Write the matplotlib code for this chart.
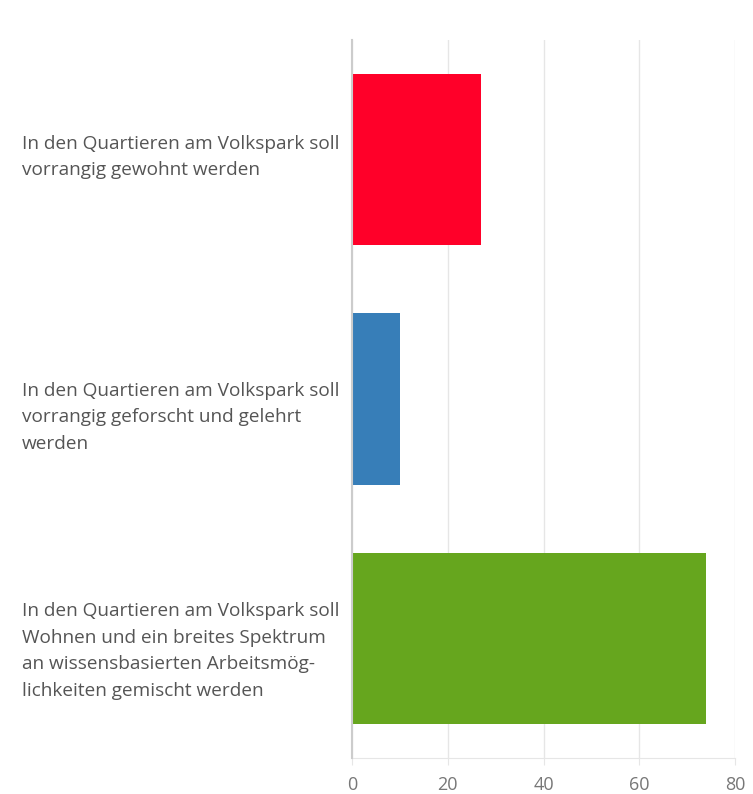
import matplotlib
matplotlib.use("Agg")
import matplotlib.pyplot as plt
from matplotlib.transforms import blended_transform_factory

labels = [
    "In den Quartieren am Volkspark soll\nvorrangig gewohnt werden",
    "In den Quartieren am Volkspark soll\nvorrangig geforscht und gelehrt\nwerden",
    "In den Quartieren am Volkspark soll\nWohnen und ein breites Spektrum\nan wissensbasierten Arbeitsmög-\nlichkeiten gemischt werden",
]
values = [27, 10, 74]
colors = ["#FF0029", "#377EB8", "#66A61E"]
xticks = [0, 20, 40, 60, 80]

# small vertical nudges for the category labels (in bar-band units)
label_nudge = [-0.01, 0.076, 0.053]

plt.rcParams["font.family"] = ["Open Sans", "DejaVu Sans"]

fig = plt.figure(figsize=(7.53, 7.94), dpi=100)
ax = fig.add_axes([352 / 753, 1 - 758 / 794, (735 - 352) / 753, (758 - 40) / 794])

pos = list(range(len(values)))
ax.barh(pos, values, height=0.715, color=colors, zorder=3)
ax.set_ylim(len(values) - 0.5, -0.5)
ax.set_xlim(0, 80)
ax.set_xticks(xticks)
ax.set_xticklabels([str(t) for t in xticks], color="#777777", fontsize=13)
ax.set_yticks([])
ax.grid(axis="x", color="#e6e6e6", linewidth=1, zorder=0)
ax.tick_params(axis="x", length=5, color="#e6e6e6", pad=8)
for s in ["top", "right"]:
    ax.spines[s].set_visible(False)
ax.spines["bottom"].set_color("#e6e6e6")
ax.spines["left"].set_color("#cccccc")
ax.spines["left"].set_linewidth(1.5)
ax.spines["left"].set_zorder(4)

trans = blended_transform_factory(fig.transFigure, ax.transData)
for p, lab, dy in zip(pos, labels, label_nudge):
    ax.text(22 / 753, p + dy, lab, transform=trans, ha="left", va="center",
            fontsize=13.7, color="#555555", linespacing=1.6)

fig.savefig("out.png", dpi=100)
